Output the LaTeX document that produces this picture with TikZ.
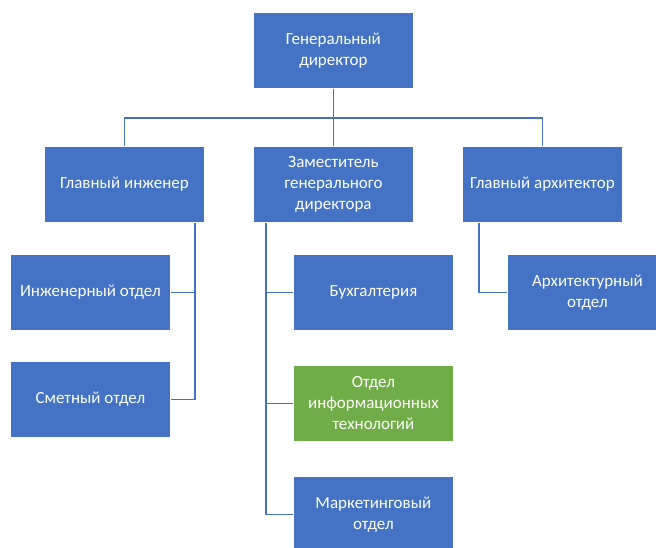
\documentclass[tikz,border=0pt]{standalone}
\usepackage{fontspec}
\setmainfont{Carlito}
\usetikzlibrary{calc}
\definecolor{unitblue}{HTML}{4472C4}
\definecolor{unitgreen}{HTML}{70AD47}
\begin{document}
\begin{tikzpicture}[x=1pt,y=-1pt,
  unit/.style={draw=white, line width=0.8pt, fill=unitblue, text=white,
    minimum width=160pt, minimum height=76pt, inner sep=2pt, align=center,
    anchor=north west, font=\fontsize{17}{21}\selectfont},
  itunit/.style={unit, fill=unitgreen},
  link/.style={draw=unitblue, line width=1.4pt}]
\useasboundingbox (0,0) rectangle (656,547);
\clip (0,0) rectangle (656,547);

% top level
\node[unit] (gd) at (253,12) {Генеральный\\директор};

% second level
\node[unit] (ce) at (44,146) {Главный инженер};
\node[unit] (zam) at (253,146) {Заместитель\\генерального\\директора};
\node[unit] (ca) at (462,146) {Главный архитектор};

% departments
\node[unit] (ie) at (10,254) {Инженерный отдел};
\node[unit] (sm) at (10,361) {Сметный отдел};
\node[unit] (bu) at (293,254) {Бухгалтерия};
\node[itunit] (it) at (293,365) {Отдел\\информационных\\технологий};
\node[unit] (mk) at (293,476) {Маркетинговый\\отдел};
\node[unit] (ad) at (507,254) {Архитектурный\\отдел};

% drop points of the vertical branches
\coordinate (ceDrop) at ($(ce.south east)+(-10,0)$);
\coordinate (zamDrop) at ($(zam.south west)+(13,0)$);
\coordinate (caDrop) at ($(ca.south west)+(17,0)$);
\coordinate (bus) at ($(gd.south)+(0,29)$);

% connectors
\draw[link] (gd.south) -- (zam.north);
\draw[link] (bus) -| (ce.north);
\draw[link] (bus) -| (ca.north);

\draw[link] (ceDrop) |- (ie.east);
\draw[link] (ceDrop) |- (sm.east);

\draw[link] (zamDrop) |- (bu.west);
\draw[link] (zamDrop) |- (it.west);
\draw[link] (zamDrop) |- (mk.west);

\draw[link] (caDrop) |- (ad.west);
\end{tikzpicture}
\end{document}
